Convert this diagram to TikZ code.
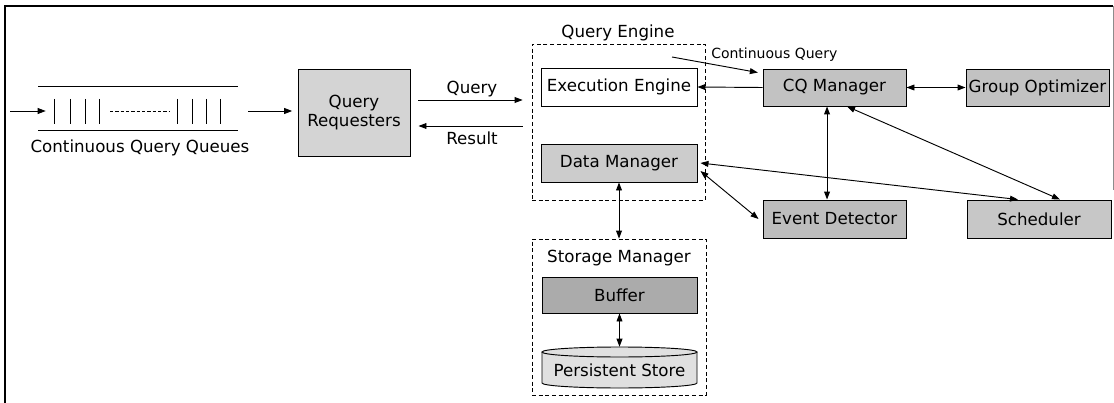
\documentclass[tikz,border=0pt]{standalone}
\usepackage{fontspec}
\setmainfont{DejaVu Sans}
\usetikzlibrary{arrows.meta}
\begin{document}
\begin{tikzpicture}[x=0.75pt,y=-0.75pt,
  every node/.style={font=\fontsize{12.5}{14}\selectfont, inner sep=0pt},
  blk/.style={draw, line width=0.7pt, minimum width=#1},
  blk/.default=107.25pt,
  dbox/.style={draw, line width=0.6pt, dash pattern=on 3pt off 2pt},
  arr/.style={line width=0.7pt, -{Triangle[length=6pt,width=4.4pt]}},
  darr/.style={line width=0.7pt, {Triangle[length=6pt,width=4.4pt]}-{Triangle[length=6pt,width=4.4pt]}},
  lbl/.style={font=\fontsize{12.5}{14}\selectfont}
]
\useasboundingbox (0,0) rectangle (1114,403);
% frame
\draw[line width=0.8pt] (5,403) -- (5,6) -- (1113,6);
\draw[line width=0.4pt, black!45] (1113,6) -- (1113,190);

% queue
\node[minimum width=150pt, minimum height=33pt] (q) at (138,108) {};
\draw[line width=0.7pt] (38,86) -- (238,86) (38,130) -- (238,130);
\foreach \xx in {54,70,85,99,177,192,206,220}
  \draw[line width=0.6pt] (\xx,99) -- (\xx,124);
\draw[line width=0.5pt, dash pattern=on 2.5pt off 1.5pt] (110,111) -- (170,111);
\node[lbl] (qlbl) at (140,148) {Continuous Query Queues};
\coordinate (src) at (10,111);
\draw[arr] (src) -- ([xshift=6pt,yshift=-2.25pt]q.west);

% query requesters
\node[blk=84pt, minimum height=65.25pt, fill=black!17, align=center] (qr) at (354,112.5) {Query\\Requesters};
\draw[arr, shorten >=4pt] ([xshift=7.5pt,yshift=-2.25pt]q.east) -- ([yshift=1.125pt]qr.west);

% query engine
\node[dbox, minimum width=129.75pt, minimum height=117pt] (qe) at (618.5,122) {};
\node[lbl] (qelbl) at (618,33) {Query Engine};
\node[blk=117pt, minimum height=28.5pt, fill=white] (ee) at (619,87) {Execution Engine};
\node[blk=117pt, minimum height=28.5pt, fill=black!20] (dm) at (619,163) {Data Manager};

\draw[arr, shorten <=6pt, shorten >=6.75pt] ([yshift=9.375pt]qr.east) -- ([yshift=16.5pt]qe.west);
\draw[arr, shorten <=6.75pt, shorten >=6pt] ([yshift=-3pt]qe.west) -- ([yshift=-10.125pt]qr.east);
\node[lbl] (qlab) at (472,89) {Query};
\node[lbl] (rlab) at (472,138) {Result};

% storage manager
\node[dbox, minimum width=130.5pt, minimum height=117pt] (sm) at (619,317) {};
\node[lbl] (smlbl) at (619,258) {Storage Manager};
\node[blk=116.25pt, minimum height=27pt, fill=black!33] (buf) at (619.5,295) {Buffer};
\node[minimum width=116.25pt, minimum height=30.75pt] (ps) at (619.5,367.5) {};
\draw[line width=0.7pt, fill=black!12] (542,352) -- (542,383)
  arc[start angle=180, end angle=360, x radius=58.125pt, y radius=3.75pt] -- (697,352);
\draw[line width=0.7pt, fill=black!12] (619.5,352) ellipse [x radius=58.125pt, y radius=3.75pt];
\node at (ps.center) [yshift=-2pt] (pstext) {Persistent Store};
\draw[darr] (dm.south) -- (sm.north);
\draw[darr] (buf.south) -- (ps.north);

% right side
\node[blk, minimum height=27.75pt, fill=black!24] (cq) at (834.5,87.5) {CQ Manager};
\node[blk, minimum height=27.75pt, fill=black!24] (go) at (1037.5,87.5) {Group Optimizer};
\node[blk, minimum height=28.5pt, fill=black!26] (ed) at (834.5,219) {Event Detector};
\node[blk=108pt, minimum height=28.5pt, fill=black!22] (sch) at (1039,219) {Scheduler};

\coordinate (cqs) at (672,57);
\draw[arr] (cqs) -- ([xshift=-3.5pt,yshift=-3pt]cq.north west);
\node[font=\fontsize{10.5}{12}\selectfont, anchor=west] (cqlbl) at (711,55) {Continuous Query};

\draw[arr] (cq.west) -- (ee.east);
\draw[darr] (cq.east) -- (go.west);
\draw[darr] ([xshift=-5.6pt]cq.south) -- ([xshift=-5.6pt]ed.north);
\draw[darr] ([xshift=9.4pt]cq.south) -- ([xshift=15.75pt]sch.north);
\draw[darr] ([xshift=2.25pt]dm.east) -- ([xshift=-15.75pt]sch.north);
\draw[darr] ([xshift=2.25pt,yshift=-6pt]dm.east) -- ([xshift=-3pt]ed.west);
\end{tikzpicture}
\end{document}
